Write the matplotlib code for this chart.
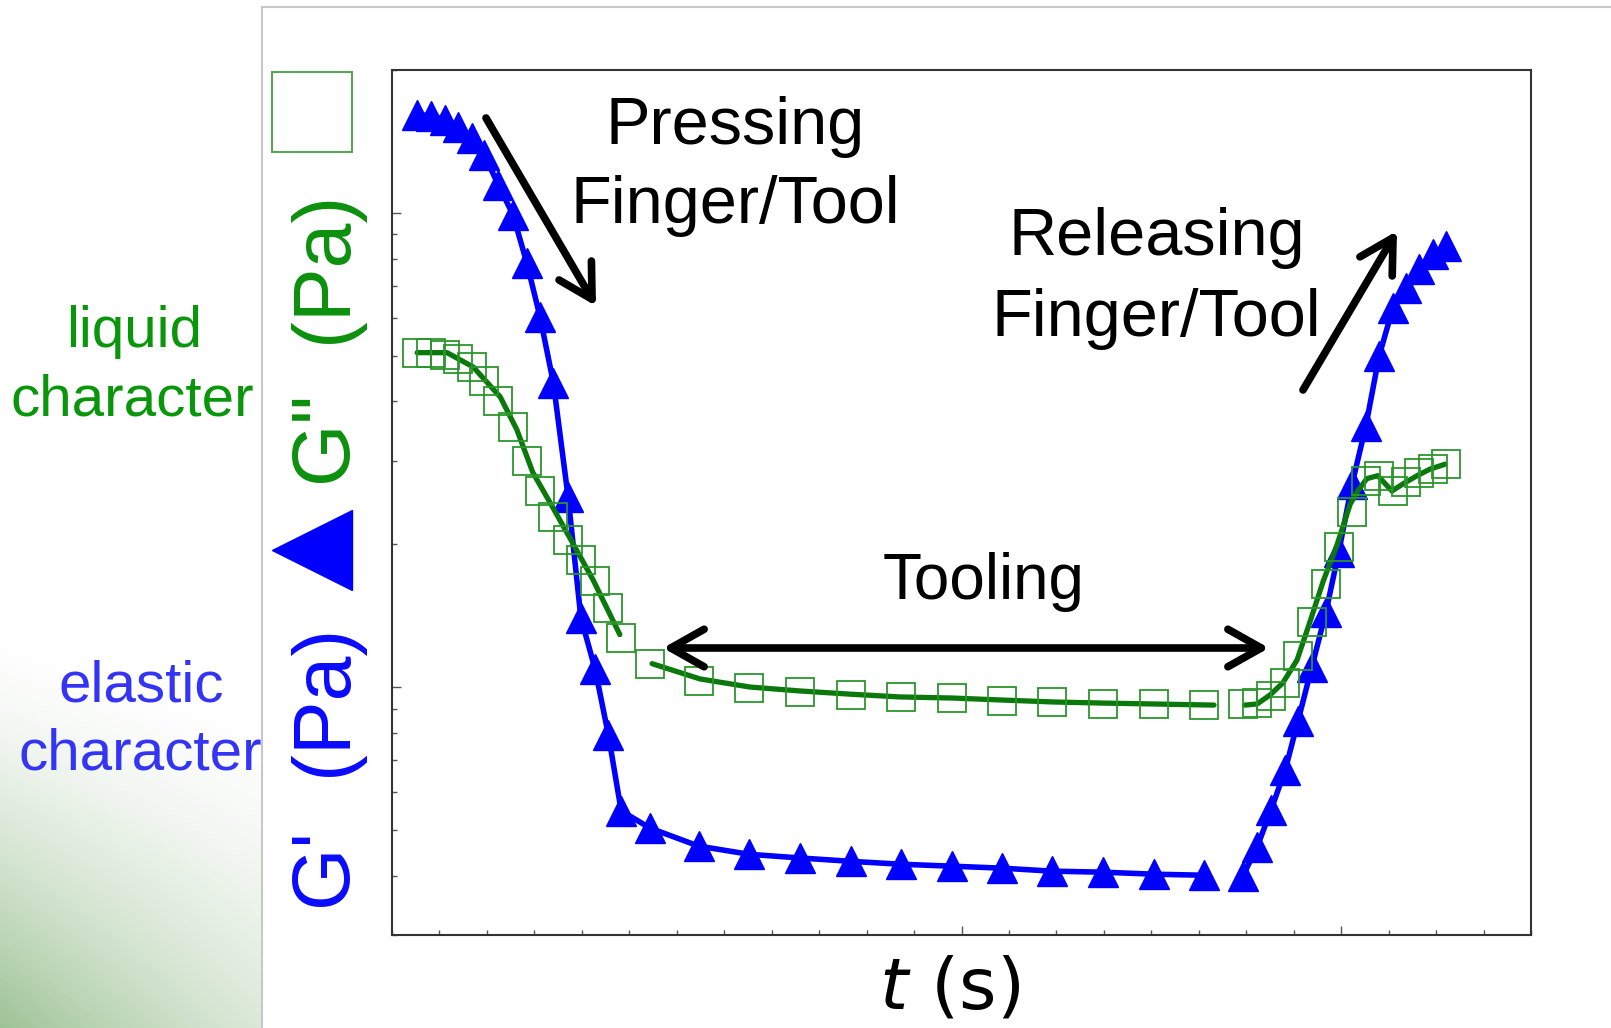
import numpy as np
import matplotlib
matplotlib.use('Agg')
import matplotlib.pyplot as plt
from matplotlib.lines import Line2D
from matplotlib.patches import Rectangle
from matplotlib.ticker import MultipleLocator, FixedLocator, NullFormatter

# time samples (arbitrary units)
t_press = [5.3, 8.3, 11.2, 14.0, 16.9, 19.4, 22.4, 25.5, 28.4, 31.2, 34.0, 37.1, 39.8, 42.8,
           45.6, 48.3, 54.4, 64.6, 75.2, 86.0, 96.7, 107.2, 118.0, 128.5, 139.1, 149.8,
           160.6, 171.1]
t_release = [179.3, 182.3, 185.2, 188.2, 190.9, 193.8, 196.8, 199.5, 202.3, 205.2, 208.0,
             210.9, 213.7, 216.4, 219.3, 222.1]

# G' (elastic, triangles) and G'' (liquid, squares), Pa
g1_press = [161.0, 160.2, 157.1, 151.8, 143.9, 132.6, 114.6, 99.0, 78.4, 60.3, 43.8, 25.2,
            14.0, 10.9, 7.92, 5.48, 5.04, 4.62, 4.44, 4.36, 4.29, 4.23, 4.19, 4.15, 4.09,
            4.07, 4.03, 4.01]
g2_press = [50.7, 50.7, 50.2, 49.2, 47.3, 44.2, 40.0, 35.4, 30.0, 25.9, 22.8, 20.4, 18.5,
            16.7, 14.7, 12.7, 11.2, 10.3, 9.95, 9.76, 9.62, 9.53, 9.48, 9.34, 9.30, 9.21,
            9.21, 9.16]
g1_release = [4.00, 4.60, 5.50, 6.68, 8.48, 11.0, 14.4, 19.3, 26.8, 35.5, 49.9, 63.0, 69.5,
              76.2, 81.9, 85.2]
g2_release = [9.21, 9.25, 9.57, 10.2, 11.6, 13.7, 16.5, 19.7, 23.4, 27.2, 27.9, 25.9, 27.1,
              28.2, 28.8, 29.5]

# smooth green curve through G'' (drawn in three pieces)
fit_t_a = [5.3, 11.6, 17.1, 22.8, 26.3, 29.7, 33.9, 38.1, 42.4, 48.0]
fit_a = [50.7, 50.7, 47.3, 40.9, 34.9, 28.3, 23.9, 20.1, 16.8, 12.9]
fit_t_b = [54.8, 64.9, 75.4, 86.0, 96.5, 107.0, 118.0, 128.3, 139.3, 149.8, 160.3, 173.2]
fit_b = [11.2, 10.4, 10.0, 9.81, 9.66, 9.53, 9.48, 9.39, 9.30, 9.25, 9.21, 9.16]
fit_t_c = [179.7, 182.3, 185.0, 187.7, 190.7, 193.4, 196.2, 199.1, 201.9, 203.5, 205.4, 207.7,
           210.7, 213.0, 216.0, 218.7, 221.9]
fit_c = [9.16, 9.21, 9.62, 10.2, 11.4, 13.7, 16.7, 19.9, 24.3, 25.9, 27.5, 27.9, 25.9, 26.8,
         27.9, 28.8, 29.5]

W, H = 1611, 1028
BLUE = '#0000ff'
GREEN_LINE = '#0b780b'
GREEN_MARK = '#2a962a'
FONT = ['Liberation Sans', 'Arial', 'DejaVu Sans']


def fx(px):
    return px / W


def fy(py):
    return 1 - py / H


fig = plt.figure(figsize=(W / 100, H / 100), dpi=100)

# slide background: soft green wash in the lower left corner
ax_bg = fig.add_axes([0, 0, 1, 1], zorder=-10)
ax_bg.axis('off')
yy, xx = np.mgrid[0:H, 0:W]
alpha = np.clip((yy - (630 + 0.3 * xx)) / 420, 0, 1) ** 1.4 * (1 - 0.5 * np.clip(xx / 262, 0, 1)) * 0.75
img = np.zeros((H, W, 4))
img[..., 0], img[..., 1], img[..., 2] = 0.45, 0.66, 0.40
img[..., 3] = alpha
ax_bg.imshow(img, extent=[0, W, H, 0], aspect='auto', interpolation='bilinear')
ax_bg.set_xlim(0, W)
ax_bg.set_ylim(H, 0)

# white panel holding the chart
fig.add_artist(Rectangle((fx(262), -0.02), 1.0, fy(7) + 0.02, transform=fig.transFigure,
                         facecolor='white', edgecolor='#c8c8c8', lw=1.5, zorder=-1))

# left side notes (under the panel)
fig.text(fx(134), fy(347), 'liquid', ha='center', va='baseline', fontsize=42,
         color='#0a960a', family=FONT, zorder=-2)
fig.text(fx(132), fy(416), 'character', ha='center', va='baseline', fontsize=42,
         color='#0a960a', family=FONT, zorder=-2)
fig.text(fx(141), fy(701), 'elastic', ha='center', va='baseline', fontsize=42,
         color='#3434f4', family=FONT, zorder=-2)
fig.text(fx(140), fy(769), 'character', ha='center', va='baseline', fontsize=42,
         color='#3434f4', family=FONT, zorder=-2)

# main axes
ax = fig.add_axes([fx(392), fy(935), 1139 / W, 865 / H])
ax.plot(t_press, g1_press, color=BLUE, lw=4, marker='^', ms=21.5, mec=BLUE,
        solid_joinstyle='round')
ax.plot(t_release, g1_release, color=BLUE, lw=4, marker='^', ms=21.5, mec=BLUE,
        solid_joinstyle='round')
for tt, vv in [(fit_t_a, fit_a), (fit_t_b, fit_b), (fit_t_c, fit_c)]:
    ax.plot(tt, vv, color=GREEN_LINE, lw=3.8, solid_joinstyle='round', solid_capstyle='round')
ax.plot(t_press, g2_press, ls='none', marker='s', ms=20.5, mfc='none', mec=GREEN_MARK, mew=1.3)
ax.plot(t_release, g2_release, ls='none', marker='s', ms=20.5, mfc='none', mec=GREEN_MARK, mew=1.3)

ax.set_yscale('log')
ax.set_xlim(0, 240)
ax.set_ylim(3, 200)
ax.xaxis.set_major_locator(FixedLocator([120, 200]))
ax.xaxis.set_minor_locator(MultipleLocator(10))
ax.yaxis.set_major_formatter(NullFormatter())
ax.yaxis.set_minor_formatter(NullFormatter())
ax.xaxis.set_major_formatter(NullFormatter())
ax.tick_params(which='both', direction='in', top=False, right=False, color='#555555', width=1)
ax.tick_params(which='major', length=6.5)
ax.tick_params(which='minor', length=3.5)
for sp in ax.spines.values():
    sp.set_color('#333333')
    sp.set_linewidth(1.5)

# annotations
fig.text(fx(735), fy(144), 'Pressing', ha='center', va='baseline', fontsize=48, family=FONT)
fig.text(fx(735), fy(223), 'Finger/Tool', ha='center', va='baseline', fontsize=48, family=FONT)
fig.text(fx(1157), fy(255), 'Releasing', ha='center', va='baseline', fontsize=48, family=FONT)
fig.text(fx(1156), fy(336), 'Finger/Tool', ha='center', va='baseline', fontsize=48, family=FONT)
fig.text(fx(984), fy(599), 'Tooling', ha='center', va='baseline', fontsize=46, family=FONT)

arrow_kw = dict(lw=5.5, color='black', shrinkA=0, shrinkB=0, capstyle='round',
                mutation_scale=30)
ax.annotate('', xy=(fx(596), fy(306)), xytext=(fx(486), fy(118)), xycoords='figure fraction',
            textcoords='figure fraction',
            arrowprops=dict(arrowstyle='->,head_length=0.8,head_width=0.45', **arrow_kw))
ax.annotate('', xy=(fx(1397), fy(231)), xytext=(fx(1303), fy(390)), xycoords='figure fraction',
            textcoords='figure fraction',
            arrowprops=dict(arrowstyle='->,head_length=0.8,head_width=0.45', **arrow_kw))
ax.annotate('', xy=(fx(1269), fy(648)), xytext=(fx(663), fy(648)), xycoords='figure fraction',
            textcoords='figure fraction',
            arrowprops=dict(arrowstyle='<->,head_length=0.8,head_width=0.45', **arrow_kw))

# axis labels
fig.text(fx(950), fy(1008), r'$t$ (s)', ha='center', va='baseline', fontsize=52)

lbl_kw = dict(rotation=90, rotation_mode='anchor', ha='center', va='baseline',
              fontsize=58, family=FONT)
fig.text(fx(346), fy(867), "G'", color='#0a0aff', **lbl_kw)
fig.text(fx(346), fy(700), '(Pa)', color='#0a0aff', **lbl_kw)
fig.text(fx(346), fy(437), 'G"', color='#0c900c', **lbl_kw)
fig.text(fx(346), fy(267), '(Pa)', color='#0c900c', **lbl_kw)
fig.add_artist(Line2D([fx(312)], [fy(550)], transform=fig.transFigure, marker='<', ms=57,
                      color='#0000ff', ls='none'))
fig.add_artist(Line2D([fx(312)], [fy(112)], transform=fig.transFigure, marker='s', ms=57,
                      mfc='none', mec='#5aa55a', mew=1.5, ls='none'))

fig.savefig('out.png', dpi=100)
